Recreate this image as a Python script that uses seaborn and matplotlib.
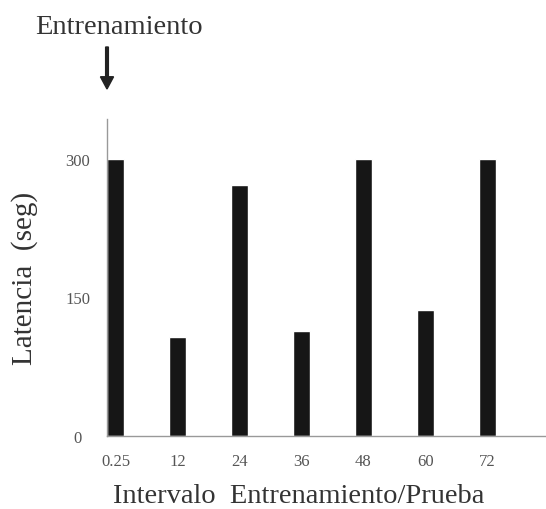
import matplotlib
matplotlib.use("Agg")
import matplotlib.pyplot as plt
import seaborn as sns
import pandas as pd

intervals = ["0.25", "12", "24", "36", "48", "60", "72"]
latency = [300, 107, 272, 114, 300, 136, 300]
yticks = [0, 150, 300]

sns.set_theme(style="white")
plt.rcParams["font.family"] = ["Liberation Serif", "DejaVu Serif"]

df = pd.DataFrame({"interval": intervals, "latency": latency})

fig = plt.figure(figsize=(5.46, 5.10), dpi=100)
ax = fig.add_axes([0.196, 0.143, 0.804, 0.622])

sns.barplot(data=df, x="interval", y="latency", order=intervals,
            color="#161616", saturation=1, width=0.28, ax=ax)

ax.set_xlim(-0.14, 6.95)
ax.set_ylim(0, 343)
ax.set_yticks(yticks)
ax.set_yticklabels([str(v) for v in yticks])
ax.tick_params(axis="both", length=0, labelsize=12, colors="#555555")
ax.tick_params(axis="x", pad=12)
ax.tick_params(axis="y", pad=21)
for lab in ax.get_yticklabels():
    lab.set_horizontalalignment("center")

for s in ["top", "right"]:
    ax.spines[s].set_visible(False)
for s in ["left", "bottom"]:
    ax.spines[s].set_color("#999999")
    ax.spines[s].set_linewidth(1.0)

ax.set_xlabel("")
ax.set_ylabel("")
fig.text(299 / 546, 1 - 497 / 510, "Intervalo  Entrenamiento/Prueba",
         ha="center", va="center", fontsize=20.5, color="#333333")
fig.text(25 / 546, 1 - 278 / 510, "Latencia  (seg)", rotation=90,
         ha="center", va="center", fontsize=21, color="#333333")
fig.text(119 / 546, 1 - 28 / 510, "Entrenamiento",
         ha="center", va="center", fontsize=20.5, color="#333333")

fig.patches.append(matplotlib.patches.FancyArrow(
    107 / 546, 1 - 48 / 510, 0, -42 / 510, width=0.005, head_width=0.024,
    head_length=0.024, length_includes_head=True, color="#222222",
    transform=fig.transFigure, figure=fig))

fig.savefig("out.png", dpi=100)
